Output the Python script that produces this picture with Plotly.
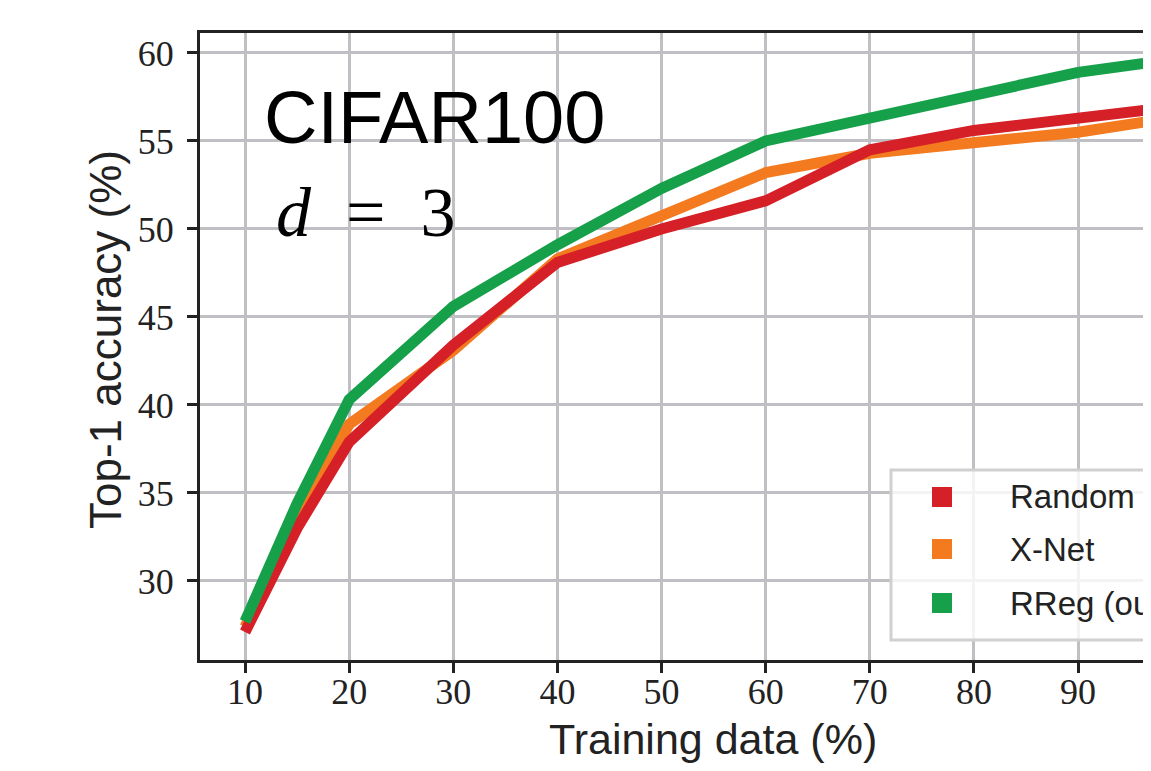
import plotly.graph_objects as go

train_pct = [10, 15, 20, 30, 40, 50, 60, 70, 80, 90, 100]
random_acc = [27.1, 33.0, 37.9, 43.4, 48.1, 50.0, 51.6, 54.5, 55.6, 56.3, 57.0]
xnet_acc = [27.4, 33.6, 38.9, 43.1, 48.3, 50.8, 53.2, 54.3, 54.9, 55.5, 56.4]
rreg_acc = [27.7, 34.4, 40.3, 45.6, 49.1, 52.3, 55.0, 56.3, 57.7, 58.9, 59.7]

series_names = ["Random", "X-Net", "RReg (ours)"]
series_colors = ["#d62027", "#f47a20", "#16a049"]

x_ticks = [10, 20, 30, 40, 50, 60, 70, 80, 90]
y_ticks = [30, 35, 40, 45, 50, 55, 60]

# page body has an 8px default margin: work in reference pixels, offset by 8
OFF = 8
W, H = 1151 - 2 * OFF, 771 - 2 * OFF
L, T, R = 200 - OFF, 33 - OFF, 0
B = H - (660 - OFF)
pw, ph = W - L - R, H - T - B

# x scale: 10 -> 245 px, 90 -> 1078 px (reference pixels)
x_per_px = 80 / (1078 - 245)
x_lo = 10 - (245 - 200) * x_per_px
x_hi = 10 + (W + OFF - 245) * x_per_px


def px(xp):
    return (xp - OFF - L) / pw


def py(yp):
    return (H - B - (yp - OFF)) / ph


fig = go.Figure()
for name, ys, col in [("X-Net", xnet_acc, series_colors[1]),
                      ("Random", random_acc, series_colors[0]),
                      ("RReg (ours)", rreg_acc, series_colors[2])]:
    fig.add_trace(go.Scatter(x=train_pct, y=ys, mode="lines", name=name,
                             line=dict(color=col, width=11), showlegend=False))

axis_common = dict(
    showgrid=True, gridcolor="#c0c0c4", gridwidth=3,
    showline=True, linecolor="#222222", linewidth=3,
    ticks="outside", ticklen=10, tickwidth=3, tickcolor="#222222",
    tickfont=dict(family="Liberation Serif", size=36, color="#222222"),
    zeroline=False,
)
fig.update_xaxes(range=[x_lo, x_hi], tickvals=x_ticks, mirror=True,
                 ticklabelstandoff=-12, **axis_common)
fig.update_yaxes(range=[25.511, 61.136], tickvals=y_ticks, mirror=False,
                 ticklabelstandoff=6, **axis_common)

shapes = []
annotations = []
shapes.append(dict(type="rect", xref="paper", yref="paper",
                   x0=px(891), x1=px(1300), y0=py(640), y1=py(470),
                   line=dict(color="#d0d0d0", width=3),
                   fillcolor="rgba(255,255,255,0.8)", layer="above"))
leg_y = [497, 549, 603]
for name, col, yy in zip(series_names, series_colors, leg_y):
    shapes.append(dict(type="rect", xref="paper", yref="paper",
                       x0=px(932), x1=px(952), y0=py(yy + 10), y1=py(yy - 10),
                       line=dict(width=0), fillcolor=col, layer="above"))
    annotations.append(dict(text=name, xref="paper", yref="paper", x=px(1008), y=py(yy),
                            xanchor="left", yanchor="middle", showarrow=False,
                            font=dict(family="Liberation Sans", size=33, color="#222222")))

annotations.append(dict(text="CIFAR100", xref="paper", yref="paper", x=px(262), y=py(117),
                        xanchor="left", yanchor="middle", showarrow=False,
                        font=dict(family="Liberation Sans", size=74, color="black")))
annotations.append(dict(text="<i>d</i>\u2002=\u20023", xref="paper", yref="paper", x=px(274), y=py(212),
                        xanchor="left", yanchor="middle", showarrow=False,
                        font=dict(family="Liberation Serif", size=70, color="black")))
annotations.append(dict(text="Training data (%)", xref="paper", yref="paper", x=px(713), y=py(739),
                        xanchor="center", yanchor="middle", showarrow=False,
                        font=dict(family="Liberation Sans", size=43, color="#222222")))
annotations.append(dict(text="Top-1 accuracy (%)", xref="paper", yref="paper", x=px(105), y=py(340),
                        xanchor="center", yanchor="middle", showarrow=False, textangle=-90,
                        font=dict(family="Liberation Sans", size=44, color="#222222")))

fig.update_layout(
    width=W, height=H,
    margin=dict(l=L, t=T, r=R, b=B, pad=0, autoexpand=False),
    paper_bgcolor="white", plot_bgcolor="white",
    shapes=shapes, annotations=annotations,
    showlegend=False,
)
fig.write_html("out.html")
